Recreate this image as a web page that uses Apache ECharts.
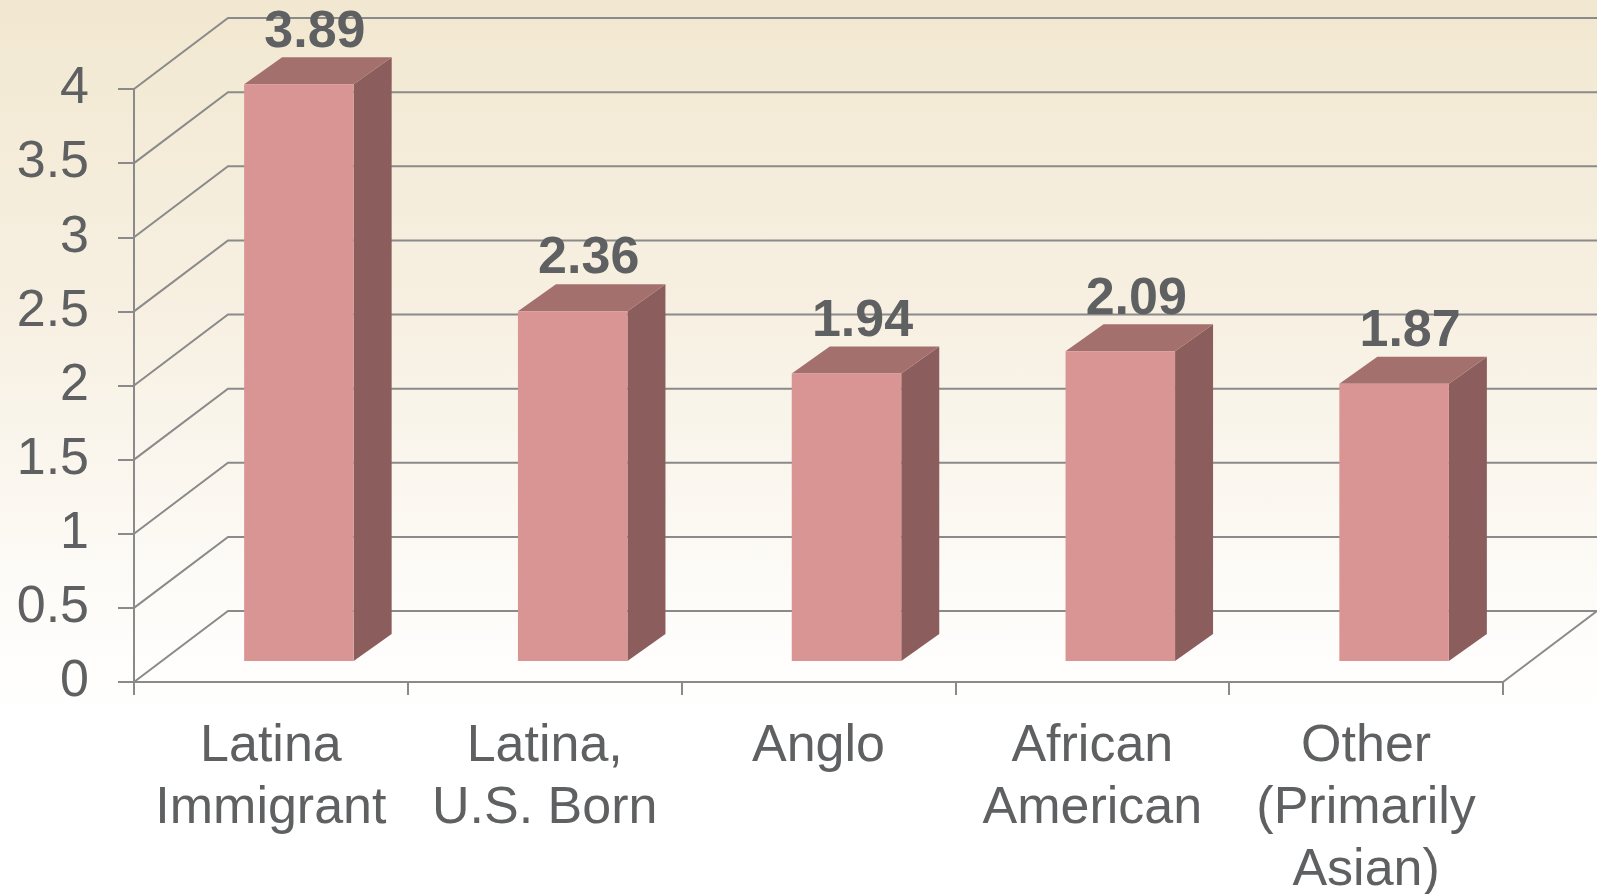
<!DOCTYPE html>
<html>
<head>
<meta charset="utf-8">
<script src="https://cdn.jsdelivr.net/npm/echarts@6/dist/echarts.min.js"></script>
<style>
  html, body { margin: 0; padding: 0; }
  #chart {
    width: 1597px;
    height: 894px;
    background: linear-gradient(to bottom, #f2e8d1 0%, #f7f0e2 35%, #fdfbf7 65%, #ffffff 80%);
  }
</style>
</head>
<body>
<div id="chart"></div>
<script>
// chart data
var categories = ['Latina\nImmigrant', 'Latina,\nU.S. Born', 'Anglo', 'African\nAmerican', 'Other\n(Primarily\nAsian)'];
var values = [3.89, 2.36, 1.94, 2.09, 1.87];
var yTicks = [0, 0.5, 1, 1.5, 2, 2.5, 3, 3.5, 4];

// 3d look (pixels)
var WALL_DX = 94, WALL_DY = -71;   // depth of the floor / back wall
var BAR_SHIFT_X = 28, BAR_SHIFT_Y = -21; // bars sit a bit behind the front plane
var BAR_DX = 38, BAR_DY = -27;     // depth of each bar
var LABEL_SHIFT = 16;

var gridColor = '#8a8a8a';
var textColor = '#5f6062';

var chart = echarts.init(document.getElementById('chart'));

function renderWall(params, api) {
  var cs = params.coordSys;
  var x0 = cs.x, x1 = cs.x + cs.width;
  var children = [];
  yTicks.forEach(function (t) {
    var y = api.coord([0, t])[1];
    children.push({
      type: 'polyline',
      shape: { points: [[x0, y], [x0 + WALL_DX, y + WALL_DY], [x1 + WALL_DX, y + WALL_DY]] },
      style: { stroke: gridColor, lineWidth: 2, fill: null }
    });
  });
  var y0 = api.coord([0, 0])[1];
  children.push({
    type: 'line',
    shape: { x1: x1, y1: y0, x2: x1 + WALL_DX, y2: y0 + WALL_DY },
    style: { stroke: gridColor, lineWidth: 2 }
  });
  return { type: 'group', children: children };
}

function renderBar(params, api) {
  var i = api.value(0), v = api.value(1);
  var base = api.coord([i, 0]);
  var top = api.coord([i, v]);
  var bw = api.size([1, 0])[0] * 0.4;
  var xl = base[0] - bw / 2 + BAR_SHIFT_X;
  var xr = xl + bw;
  var yb = base[1] + BAR_SHIFT_Y;
  var yt = top[1] + BAR_SHIFT_Y;
  return {
    type: 'group',
    children: [
      {
        type: 'polygon',
        shape: { points: [[xr, yt], [xr + BAR_DX, yt + BAR_DY], [xr + BAR_DX, yb + BAR_DY], [xr, yb]] },
        style: { fill: '#8b5e5d' }
      },
      {
        type: 'polygon',
        shape: { points: [[xl, yt], [xl + BAR_DX, yt + BAR_DY], [xr + BAR_DX, yt + BAR_DY], [xr, yt]] },
        style: { fill: '#a3706d' }
      },
      {
        type: 'rect',
        shape: { x: xl, y: yt, width: bw, height: yb - yt },
        style: { fill: '#d99594' }
      },
      {
        type: 'text',
        x: (xl + xr) / 2 + LABEL_SHIFT,
        y: yt + BAR_DY + 1,
        style: {
          text: v.toFixed(2),
          fill: textColor,
          font: 'bold 52px "Liberation Sans", Arial, sans-serif',
          align: 'center',
          verticalAlign: 'bottom'
        }
      }
    ]
  };
}

var option = {
  animation: false,
  grid: { left: 134, right: 94, top: 89, bottom: 212, containLabel: false, outerBoundsMode: 'none' },
  xAxis: {
    type: 'category',
    data: categories,
    boundaryGap: true,
    axisLine: { lineStyle: { color: gridColor, width: 2 } },
    axisTick: { show: true, length: 13, lineStyle: { color: gridColor, width: 2 } },
    axisLabel: {
      interval: 0,
      color: textColor,
      fontFamily: '"Liberation Sans", Arial, sans-serif',
      fontSize: 52,
      lineHeight: 62,
      margin: 34
    },
    splitLine: { show: false }
  },
  yAxis: {
    type: 'value',
    min: 0,
    max: 4,
    interval: 0.5,
    axisLine: { show: true, lineStyle: { color: gridColor, width: 2 } },
    axisTick: { show: true, length: 16, lineStyle: { color: gridColor, width: 2 } },
    axisLabel: {
      color: textColor,
      fontFamily: '"Liberation Sans", Arial, sans-serif',
      fontSize: 52,
      margin: 45
    },
    splitLine: { show: false }
  },
  series: [
    {
      type: 'custom',
      renderItem: renderWall,
      data: [[0, 0]],
      clip: false,
      silent: true,
      z: 1
    },
    {
      type: 'custom',
      renderItem: renderBar,
      data: values.map(function (v, i) { return [i, v]; }),
      clip: false,
      z: 2
    }
  ]
};

chart.setOption(option);
</script>
</body>
</html>
